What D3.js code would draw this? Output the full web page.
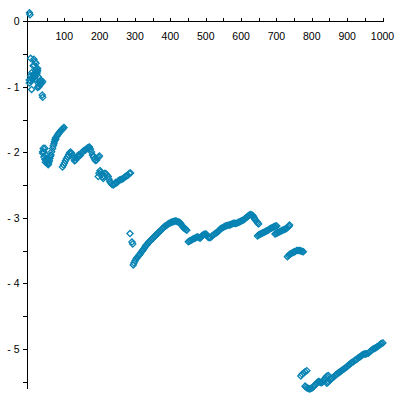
<!DOCTYPE html>
<html><head><meta charset="utf-8">
<script src="https://cdn.jsdelivr.net/npm/d3@7"></script>
<style>
html,body{margin:0;padding:0;background:#fff;}
svg{display:block;}
text{font-family:"Liberation Sans",Arial,sans-serif;font-size:10.5px;fill:#000;}
</style></head><body>
<svg id="c" width="400" height="400"></svg>
<script>
// x tick labels and y tick labels
const xTickLabels = [100,200,300,400,500,600,700,800,900,1000];
const xMinorTicks = [50,100,150,200,250,300,350,400,450,500,550,600,650,700,750,800,850,900,950,1000];
const yTickLabels = [0,-1,-2,-3,-4,-5];
const yMinorTicks = [0,-0.5,-1,-1.5,-2,-2.5,-3,-3.5,-4,-4.5,-5,-5.5];

// data segments: [x, y]
const segTop = [[1.5,0.13],[3,0.10]];
const segA = [[4.8,-0.565],[14,-0.58],[17,-0.62],[20,-0.64],[15,-0.67],[12,-0.68],[24.6,-0.72],[21.8,-0.73],
  [24.6,-0.755],[21.8,-0.77],[7.6,-0.785],[12,-0.82],[20,-0.795],[21.8,-0.82],[26.3,-0.846],[4.8,-0.835],
  [17,-0.846],[12.2,-0.855],[10.5,-0.885],[1,-0.896],[17,-0.885],[5.7,-0.92],[1,-0.94],[31,-0.92],
  [38.8,-0.92],[36,-0.946],[31,-0.97],[26.3,-0.99],[24.6,-1.01],[28.3,-1.0],[32.5,-0.957],[35.4,-0.934],
  [7.6,-1.04],[37.6,-1.125],[38.8,-1.16],[19,-0.75],[23,-0.79],[14,-0.8],[9,-0.86],[3,-0.9],[27,-0.95],[34,-0.9]];
const segB = [[38.8,-1.99],[40.5,-1.94],[45.3,-1.94],[38.8,-2.015],[42.4,-2.07],[45.3,-2.11],[50,-2.14],
  [54.6,-2.18],[54.6,-2.19],[42.4,-1.995],[48,-2.04],[51,-2.09],[46.7,-2.15],[52.3,-2.165],
  [59.4,-2.09],[58,-2.13],[62.3,-2.04],[64.2,-1.99],[67,-1.94],[68.8,-1.9],[70.8,-1.87],[73.6,-1.81],
  [75,-1.78],[78.4,-1.76],[80.6,-1.74],[83,-1.72],[85,-1.705],[87.7,-1.685],[90.6,-1.667],[92.5,-1.66],
  [94.8,-1.645],[97,-1.633],[99,-1.62],[72,-1.84],[76,-1.8],[56,-2.16],[60.5,-2.06]];
const segC = [[94.8,-2.225],[97.6,-2.195],[100.5,-2.165],[103.3,-2.13],[106,-2.1],[109,-2.07],[111.8,-2.04],
  [114.6,-2.01],[117.4,-1.995],[120.3,-2.01],[123,-2.04],[126,-2.09],[128.8,-2.13],[131.6,-2.12],[134.4,-2.09],
  [137.3,-2.056],[140,-2.04],[143,-2.056],[145.7,-2.04],[148.6,-2.01],[151.4,-1.995],[154.2,-1.98],[157,-1.97],
  [160,-1.965],[162.7,-1.95],[165.5,-1.935],[168.4,-1.927],[171.2,-1.92],[174,-1.95],[176.9,-1.995],
  [179.7,-2.04],[182.5,-2.07],[185.4,-2.1],[188,-2.125],[191,-2.12],[194,-2.09],[196.7,-2.07],[199.5,-2.056]];
const segD = [[196,-2.37],[198,-2.32],[201,-2.28],[203.8,-2.3],[205.7,-2.33],[208,-2.38],[210.3,-2.4],
  [212.2,-2.36],[215,-2.32],[218,-2.33],[220.7,-2.35],[224.4,-2.37],[226.4,-2.41],[229,-2.45],[232,-2.47],
  [235,-2.49],[238.6,-2.5],[242,-2.485],[244.8,-2.46],[248,-2.47],[252,-2.44],[254.7,-2.43],[257.5,-2.42],
  [260.4,-2.415],[263,-2.41],[267,-2.4],[270,-2.38],[273,-2.37],[276.5,-2.36],[280,-2.35],[284,-2.32],[287.5,-2.315]];
const segE1 = [[285.8,-3.24],[291.5,-3.37],[293.5,-3.4]];
const segE2 = [[295,-3.72],[297,-3.69],[300,-3.66],[302.8,-3.63],[305.6,-3.61],[308.5,-3.59],[311.3,-3.57],
  [314,-3.555],[317,-3.53],[319.8,-3.51],[322.6,-3.49],[325.5,-3.47],[328,-3.445],[331,-3.42],[334,-3.41],
  [336.8,-3.385],[339.6,-3.37],[342.4,-3.355],[345,-3.34],[348,-3.325],[351,-3.31],[353.8,-3.29],[356.6,-3.28],
  [359.4,-3.26],[362.2,-3.25],[365,-3.23],[368,-3.22],[370.7,-3.2],[373.6,-3.19],[376.4,-3.17],[379.2,-3.16],
  [382,-3.14],[385,-3.125],[387.7,-3.12],[390.5,-3.11],[393.4,-3.095],[396,-3.087],[399,-3.08],[402,-3.07],
  [404.7,-3.065],[407.5,-3.06],[410.4,-3.057],[413,-3.05],[416,-3.05],[418.8,-3.057],[421.7,-3.065],
  [424.5,-3.065],[427.3,-3.075],[430,-3.095],[433,-3.12],[435.8,-3.14],[438.6,-3.16],[441.5,-3.165],
  [444.3,-3.18],[446.3,-3.19]];
const segE3 = [[450.8,-3.365],[454,-3.355],[457,-3.347],[460.4,-3.34],[464,-3.325],[467,-3.317],[469.8,-3.313],
  [472.6,-3.3],[476.3,-3.29],[479.7,-3.3],[484,-3.313],[486.8,-3.293],[489.6,-3.27],[492.4,-3.263],[495,-3.255],
  [498,-3.248],[501,-3.248],[503.7,-3.27],[507.4,-3.3],[510.8,-3.3],[514,-3.3],[517.8,-3.278],[521.5,-3.263],
  [525,-3.248],[527.8,-3.237],[531,-3.227],[535,-3.21],[537.7,-3.194],[540.5,-3.175],[543.4,-3.163],[546,-3.155],
  [550,-3.145],[553.4,-3.133],[556,-3.125],[559.5,-3.12],[563,-3.115],[566,-3.11],[568.8,-3.11],[571.7,-3.1],
  [574.5,-3.095],[578,-3.084],[581.7,-3.084],[584.4,-3.087],[588,-3.084],[591.5,-3.072],[594.3,-3.064],
  [597,-3.06],[600,-3.05],[602.8,-3.04],[606.7,-3.034],[610,-3.02],[613,-3.003],[616.4,-2.99],[618.7,-2.98],
  [621.7,-2.965],[624,-2.957],[627,-2.95],[630.6,-2.957],[633,-2.965],[635,-2.98],[637.5,-3.003],[639,-3.026],
  [641.7,-3.04],[645,-3.06],[647.3,-3.08],[649.5,-3.095]];
const segE4 = [[646.5,-3.278],[649.3,-3.263],[652,-3.255],[655,-3.248],[658,-3.24],[660.7,-3.232],[663.5,-3.225],
  [666.3,-3.217],[669,-3.21],[672,-3.2],[674.8,-3.194],[677.8,-3.186],[680.6,-3.17],[683.4,-3.163],[686.3,-3.155],
  [689,-3.148],[692,-3.14],[694.8,-3.133],[697.6,-3.125],[701,-3.125]];
const segE5 = [[696,-3.247],[699,-3.24],[701.8,-3.232],[704.7,-3.225],[707.5,-3.217],[710.3,-3.21],[713,-3.2],
  [716,-3.194],[718.8,-3.186],[721.7,-3.178],[724.5,-3.175],[727.3,-3.163],[730,-3.155],[733,-3.14],[736,-3.125],[737.2,-3.11]];
const segE6 = [[731,-3.594],[734.4,-3.575],[737.2,-3.56],[740,-3.548],[743.4,-3.542],[747,-3.53],[750,-3.52],
  [752.8,-3.515],[757.6,-3.5],[761,-3.5],[764,-3.5],[767,-3.5],[769.7,-3.507],[772.6,-3.515],[776,-3.517]];
const segF1 = [[769,-5.415],[772.6,-5.39],[777,-5.37],[781,-5.35],[786,-5.335]];
const segF2 = [[781,-5.57],[783.6,-5.583],[786.5,-5.6],[790,-5.605],[793.6,-5.613],[796.6,-5.605],[800,-5.603],
  [803.7,-5.583],[806.5,-5.567],[809.4,-5.553],[812.2,-5.537],[815,-5.52],[818.7,-5.5],[822,-5.505],[825,-5.515],
  [828.4,-5.517],[830.6,-5.5],[833.4,-5.48],[837.7,-5.45],[840.5,-5.43],[843.4,-5.415],[847,-5.408]];
const segF3 = [[842.5,-5.527],[844.8,-5.515],[847.6,-5.5],[852,-5.477],[854.7,-5.46],[857.5,-5.445],[861.3,-5.435],
  [864.7,-5.415],[867.5,-5.4],[871,-5.385],[874.7,-5.37],[877.5,-5.36],[880.4,-5.35],[883.2,-5.34],[886,-5.325],
  [889.8,-5.313],[893.2,-5.3],[896,-5.285],[899.5,-5.273],[903,-5.255],[906,-5.24],[908.4,-5.232],[911.3,-5.217],
  [914,-5.206],[917.7,-5.197],[921,-5.18],[924,-5.17],[927.5,-5.16],[931,-5.14],[934,-5.13],[936.7,-5.12],
  [939.6,-5.11],[942.4,-5.095],[946,-5.084],[949.6,-5.08],[952.4,-5.08],[955,-5.075],[960,-5.068],[963.6,-5.05],
  [966.4,-5.035],[970,-5.02],[973.5,-5.003],[976.4,-4.995],[979,-4.992],[982,-4.98],[985,-4.968],[988.5,-4.957],
  [992,-4.942],[994.8,-4.927],[997.5,-4.92],[1001,-4.91]];

const segments = [segTop,segA,segB,segC,segD,segE1,segE2,segE3,segE4,segE5,segE6,segF1,segF2,segF3];

const svg = d3.select("#c");
const x = d3.scaleLinear().domain([-5.5,1000]).range([27,382.5]);
const y = d3.scaleLinear().domain([0.15,-5.62]).range([11.5,389.4]);
const color = "#0783b3";

// x axis (at y=0), ticks pointing up, labels below
const y0 = Math.round(y(0)) + 0.5;
const gx = svg.append("g").attr("transform",`translate(0,${y0})`);
gx.append("line").attr("x1",x(-5.5)).attr("x2",x(1000)).attr("stroke","#000").attr("shape-rendering","crispEdges");
gx.selectAll("line.t").data(xMinorTicks).join("line").attr("class","t")
  .attr("x1",d=>Math.round(x(d))+0.5).attr("x2",d=>Math.round(x(d))+0.5).attr("y1",0).attr("y2",-4)
  .attr("stroke","#000").attr("shape-rendering","crispEdges");
gx.selectAll("text").data(xTickLabels).join("text")
  .attr("x",d=>x(d)).attr("y",18).attr("text-anchor","middle").text(d=>d);

// y axis
const x0 = Math.round(x(-5.5)) + 0.5;
const gy = svg.append("g").attr("transform",`translate(${x0},0)`);
gy.append("line").attr("y1",y(0.15)).attr("y2",y(-5.62)).attr("stroke","#000").attr("shape-rendering","crispEdges");
gy.selectAll("line.t").data(yMinorTicks).join("line").attr("class","t")
  .attr("y1",d=>Math.round(y(d))+0.5).attr("y2",d=>Math.round(y(d))+0.5).attr("x1",0).attr("x2",-5)
  .attr("stroke","#000").attr("shape-rendering","crispEdges");
gy.selectAll("text").data(yTickLabels).join("text")
  .attr("x",-8).attr("y",d=>y(d)).attr("dy","0.36em").attr("text-anchor","end")
  .text(d=>d===0?"0":"- "+Math.abs(d));

// points
const diamond = "M0,-3.1L3.1,0L0,3.1L-3.1,0Z";
const pts = segments.flat();
svg.append("g").selectAll("path").data(pts).join("path")
  .attr("d",diamond)
  .attr("transform",d=>`translate(${x(d[0])},${y(d[1])})`)
  .attr("fill","none").attr("stroke",color).attr("stroke-width",1.3);
</script>
</body></html>
